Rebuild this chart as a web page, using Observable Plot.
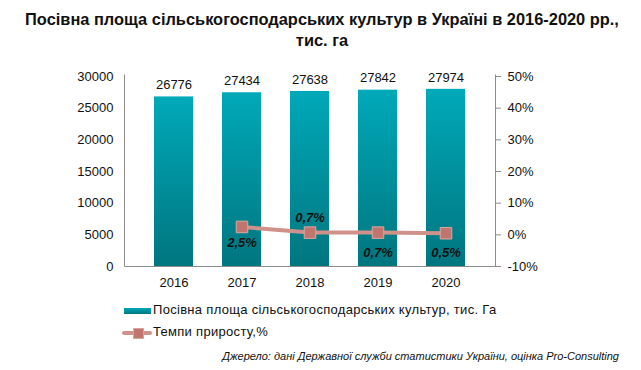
<!DOCTYPE html>
<html><head><meta charset="utf-8">
<script src="https://cdn.jsdelivr.net/npm/d3@7"></script>
<script src="https://cdn.jsdelivr.net/npm/@observablehq/plot@0.6"></script>
<style>
body{margin:0;background:#fff;font-family:"Liberation Sans",Arial,sans-serif;}
#wrap{position:relative;width:641px;height:370px;overflow:hidden;}
#title{position:absolute;left:0;top:9px;width:644px;text-align:center;font-weight:bold;font-size:16.4px;line-height:21px;color:#111;}
#chart{position:absolute;left:0;top:0;}
.leg{position:absolute;font-size:13px;color:#111;letter-spacing:0.3px;}
#src{position:absolute;right:22px;top:350px;font-size:11px;font-style:italic;color:#111;}
</style></head>
<body>
<div id="wrap">
<div id="chart"></div>
<div id="title">Посівна площа сільськогосподарських культур в Україні в 2016-2020 рр.,<br>тис. га</div>
<div class="leg" style="left:124px;top:302px;"><span style="display:inline-block;width:27px;height:6px;background:linear-gradient(#00a8b8,#007781);vertical-align:middle;margin-right:2px;"></span>Посівна площа сільськогосподарських культур, тис. Га</div>
<div class="leg" style="left:122px;top:324px;"><span style="display:inline-block;position:relative;width:30px;height:10px;vertical-align:middle;margin-right:1px;"><span style="position:absolute;left:0;top:3px;width:30px;height:4px;background:#cf918a;border-radius:2px;"></span><span style="position:absolute;left:11px;top:0;width:9px;height:9px;background:#c0766e;border:1px solid #dba49d;"></span></span>Темпи приросту,%</div>
<div id="src">Джерело: дані Державної служби статистики України, оцінка Pro-Consulting</div>
</div>
<script>
const years = ["2016","2017","2018","2019","2020"];
const area = [26776, 27434, 27638, 27842, 27974];
const growthYears = ["2017","2018","2019","2020"];
const growth = [2.5, 0.7, 0.7, 0.5];
const growthLabelPos = ["below", "above", "below", "below"];
const leftTicks = [0, 5000, 10000, 15000, 20000, 25000, 30000];
const pctTicks = [-10, 0, 10, 20, 30, 40, 50];

const toY = p => (p + 10) * 500; // -10..50% mapped onto 0..30000
const bars = years.map((y, i) => ({year: y, value: area[i]}));
const line = growthYears.map((y, i) => ({year: y, pct: growth[i], yv: toY(growth[i]), pos: growthLabelPos[i]}));
const pctLabel = d => d.pct.toFixed(1).replace(".", ",") + "%";

const axisLines = (index, scales, values, dims) => {
  const ns = "http://www.w3.org/2000/svg";
  const g = document.createElementNS(ns, "g");
  const {width, height, marginLeft, marginRight, marginTop, marginBottom} = dims;
  const y0 = height - marginBottom;
  const segs = [
    [marginLeft, marginTop - 2, marginLeft, y0],
    [width - marginRight, marginTop - 2, width - marginRight, y0],
    [marginLeft, y0, width - marginRight + 3, y0]
  ];
  for (const [x1, y1, x2, y2] of segs) {
    const l = document.createElementNS(ns, "line");
    l.setAttribute("x1", x1 + 0.5); l.setAttribute("x2", x2 + 0.5);
    l.setAttribute("y1", y1 + 0.5); l.setAttribute("y2", y2 + 0.5);
    l.setAttribute("stroke", "#8c8c8c");
    g.appendChild(l);
  }
  return g;
};

const plot = Plot.plot({
  width: 641, height: 300,
  marginTop: 76, marginBottom: 34, marginLeft: 124, marginRight: 146,
  style: {fontFamily: "'Liberation Sans', Arial, sans-serif", fontSize: "13px", color: "#111", background: "transparent"},
  x: {domain: years, padding: 0.42, label: null},
  y: {domain: [0, 30000], label: null},
  marks: [
    () => {
      const ns = "http://www.w3.org/2000/svg";
      const defs = document.createElementNS(ns, "defs");
      defs.innerHTML = `<linearGradient id="barGrad" x1="0" y1="0" x2="0" y2="1">
        <stop offset="0" stop-color="#00a9b9"/><stop offset="1" stop-color="#00767f"/></linearGradient>
        <filter id="sh" x="-30%" y="-30%" width="170%" height="170%"><feDropShadow dx="1.5" dy="1.5" stdDeviation="1" flood-color="#000" flood-opacity="0.3"/></filter>
        <filter id="bsh" x="-10%" y="-5%" width="125%" height="110%"><feDropShadow dx="2" dy="0" stdDeviation="1.2" flood-color="#000" flood-opacity="0.18"/></filter>`;
      return defs;
    },
    Plot.barY(bars, {x: "year", y: "value", fill: "url(#barGrad)", style: "filter:url(#bsh)"}),
    Plot.text(bars, {x: "year", y: "value", text: d => String(d.value), dy: -12, fontSize: 13}),
    axisLines,
    Plot.axisY(leftTicks, {anchor: "left", tickSize: 0, tickPadding: 11, fontSize: 13, tickFormat: d => String(d), label: null}),
    Plot.axisY(pctTicks.map(toY), {anchor: "right", tickSize: 5, tickPadding: 7, stroke: "#8c8c8c", strokeOpacity: 1, tickFormat: d => `${Math.round(d / 500 - 10)}%`, fontSize: 13, label: null}),
    Plot.axisX({tickSize: 0, tickPadding: 11, fontSize: 13, label: null}),
    Plot.lineY(line, {x: "year", y: "yv", stroke: "#cf918a", strokeWidth: 4}),
    Plot.dot(line, {x: "year", y: "yv", symbol: "square", r: 6.5, fill: "#c0766e", stroke: "#dda69f", strokeWidth: 1, style: "filter:url(#sh)"}),
    Plot.text(line.filter(d => d.pos === "above"), {x: "year", y: "yv", text: pctLabel, dy: -15, fontWeight: "bold", fontStyle: "italic", fontSize: 13}),
    Plot.text(line.filter((d, i) => d.pos === "below" && i === 0), {x: "year", y: "yv", text: pctLabel, dy: 16, fontWeight: "bold", fontStyle: "italic", fontSize: 13}),
    Plot.text(line.filter((d, i) => d.pos === "below" && i > 0), {x: "year", y: "yv", text: pctLabel, dy: 20, fontWeight: "bold", fontStyle: "italic", fontSize: 13})
  ]
});
document.getElementById("chart").appendChild(plot);
</script>
</body></html>
